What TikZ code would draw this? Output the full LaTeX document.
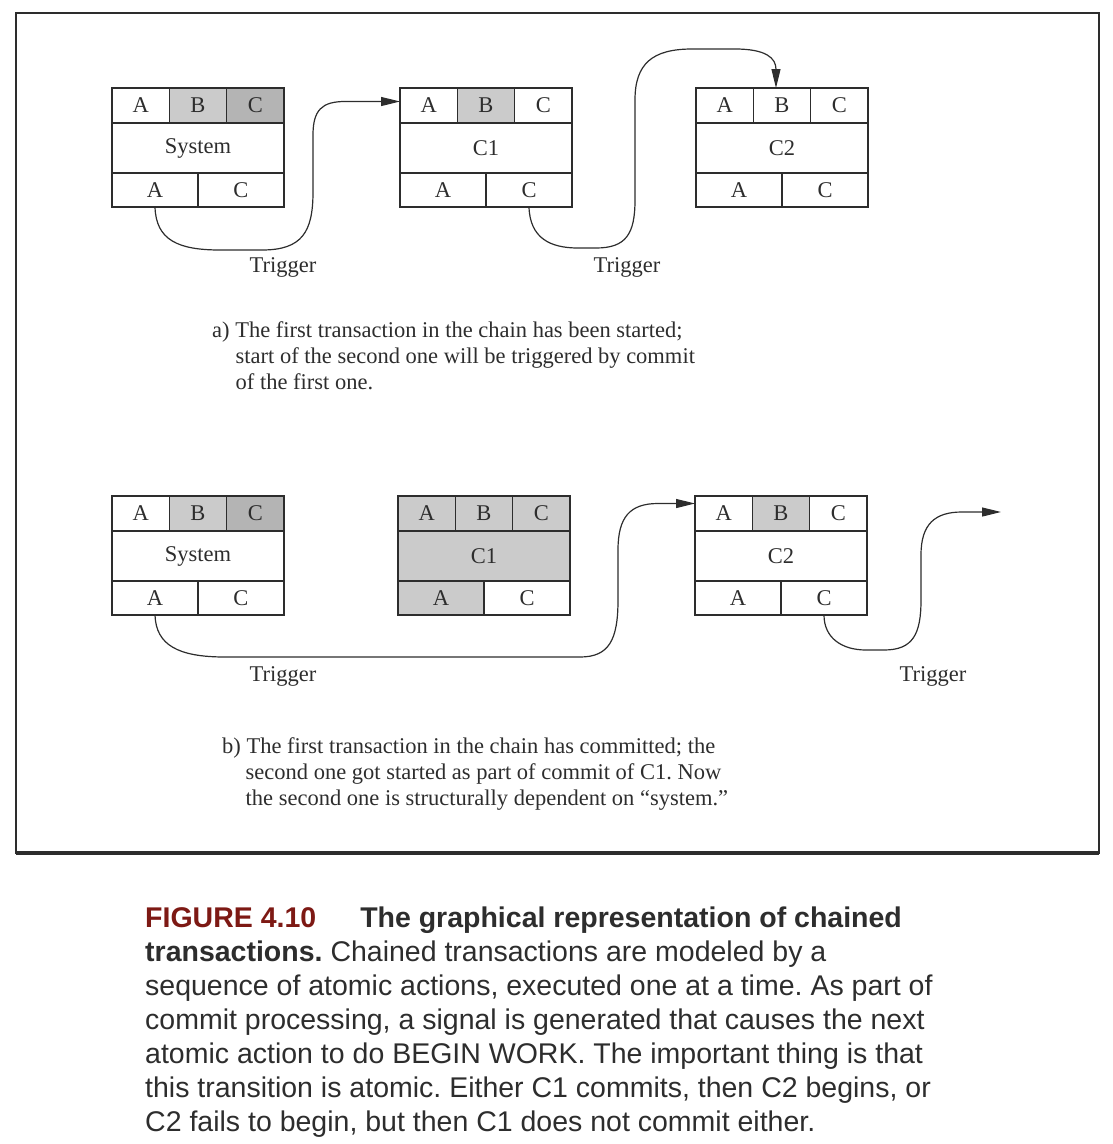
\documentclass[tikz,border=0pt]{standalone}
\usepackage{fontspec}
\setmainfont{Liberation Serif}
\newfontfamily\captionsans{Liberation Sans}
\usepackage{xcolor}
\usepackage{tikz}
\usetikzlibrary{arrows.meta, positioning}
\frenchspacing
\definecolor{inkgray}{RGB}{45, 45, 45}
\definecolor{shadelight}{RGB}{203, 203, 203}
\definecolor{shadedark}{RGB}{180, 180, 180}
\definecolor{figurered}{RGB}{125, 25, 20}
\definecolor{captiontext}{RGB}{45, 45, 45}

\tikzset{
    cell/.style={draw=inkgray, line width=1.3pt, outer sep=0pt, inner sep=0pt,
                 minimum width=57.33pt, minimum height=35pt, text=inkgray,
                 font=\fontsize{22.5}{26}\selectfont},
    midcell/.style={cell, minimum width=172pt, minimum height=50pt},
    lowcell/.style={cell, minimum width=86pt, minimum height=34pt},
    trig/.style={draw=inkgray, line width=1.2pt, -{Triangle[length=19pt, width=9pt]}},
    triglabel/.style={text=inkgray, font=\fontsize{22.5}{26}\selectfont},
    note/.style={anchor=north west, inner sep=0pt, align=left, text=inkgray,
                 font=\fontsize{22.5}{26}\selectfont}
}

\newcommand{\chainbox}[9]{%
    \node[cell, #4, anchor=north west] (#1tA) at (#2) {A};
    \node[cell, #5, right=0pt of #1tA] (#1tB) {B};
    \node[cell, #6, right=0pt of #1tB] (#1tC) {C};
    \node[midcell, #7, anchor=north west] (#1m) at (#1tA.south west) {#3};
    \node[lowcell, #8, anchor=north west] (#1bA) at (#1m.south west) {A};
    \node[lowcell, #9, right=0pt of #1bA] (#1bC) {C};
}

\begin{document}
\begin{tikzpicture}[x=1pt, y=-1pt]
    \useasboundingbox (0,0) rectangle (1112,1144);
    \draw[draw=inkgray, line width=1.5pt] (16,13) rectangle (1099,853);
    \draw[draw=inkgray, line width=3.5pt] (16,853) -- (1099,853);

    \chainbox{sysa}{112,88}{System}{}{fill=shadelight}{fill=shadedark}{}{}{}
    \chainbox{c1a}{400,88}{C1}{}{fill=shadelight}{}{}{}{}
    \chainbox{c2a}{696,88}{C2}{}{}{}{}{}{}

    \draw[trig] (sysabA.south) .. controls (156,240) and (178,250) .. (220,250) -- (262,250)
        .. controls (302,250) and (313,232) .. (313,192) -- (313,135)
        .. controls (313,110) and (322,101.5) .. (345,101.5) -- ([yshift=4pt]c1atA.west);
    \draw[trig] (c1abC.south) .. controls (530,238) and (550,248) .. (578,248) -- (596,248)
        .. controls (626,248) and (635,234) .. (635,200) -- (635,100)
        .. controls (635,64) and (652,49) .. (692,49) -- (735,49)
        .. controls (766,49) and (776,58) .. ([xshift=-6pt]c2atB.north);

    \node[triglabel] (triga1) at (283,267) {Trigger};
    \node[triglabel] (triga2) at (627,267) {Trigger};

    \node[note] (notea) at (212,321) {a) The first transaction in the chain has been started;\\
        \hspace*{23.5pt}start of the second one will be triggered by commit\\
        \hspace*{23.5pt}of the first one.};

    \chainbox{sysb}{112,496}{System}{}{fill=shadelight}{fill=shadedark}{}{}{}
    \chainbox{c1b}{398,496}{C1}{fill=shadelight}{fill=shadelight}{fill=shadelight}{fill=shadelight}{fill=shadelight}{}
    \chainbox{c2b}{695,496}{C2}{}{fill=shadelight}{}{}{}{}

    \coordinate (trigend) at (1001,512);
    \draw[trig] (sysbbA.south) .. controls (156,645) and (178,657) .. (225,657) -- (580,657)
        .. controls (609,657) and (618,640) .. (618,600) -- (618,550)
        .. controls (618,517) and (630,503.5) .. (658,503.5) -- ([yshift=10pt]c2btA.west);
    \draw[trig] (c2bbC.south) .. controls (824,638) and (842,650) .. (866,650) -- (884,650)
        .. controls (913,650) and (921,634) .. (921,600) -- (921,555)
        .. controls (921,524) and (935,512) .. (962,512) -- (trigend);

    \node[triglabel] (trigb1) at (283,676) {Trigger};
    \node[triglabel] (trigb2) at (933,676) {Trigger};

    \node[note] (noteb) at (222,737) {b) The first transaction in the chain has committed; the\\
        \hspace*{23.5pt}second one got started as part of commit of C1. Now\\
        \hspace*{23.5pt}the second one is structurally dependent on “system.”};

    \node[anchor=north west, inner sep=0pt, align=left, text=captiontext,
          font=\captionsans\fontsize{28.5}{34}\selectfont] (caption) at (145,907) {%
        \textbf{\textcolor{figurered}{FIGURE 4.10}\hspace{44pt}The graphical representation of chained}\\
        \textbf{transactions.} Chained transactions are modeled by a\\
        sequence of atomic actions, executed one at a time. As part of\\
        commit processing, a signal is generated that causes the next\\
        atomic action to do BEGIN WORK. The important thing is that\\
        this transition is atomic. Either C1 commits, then C2 begins, or\\
        C2 fails to begin, but then C1 does not commit either.};
\end{tikzpicture}
\end{document}
